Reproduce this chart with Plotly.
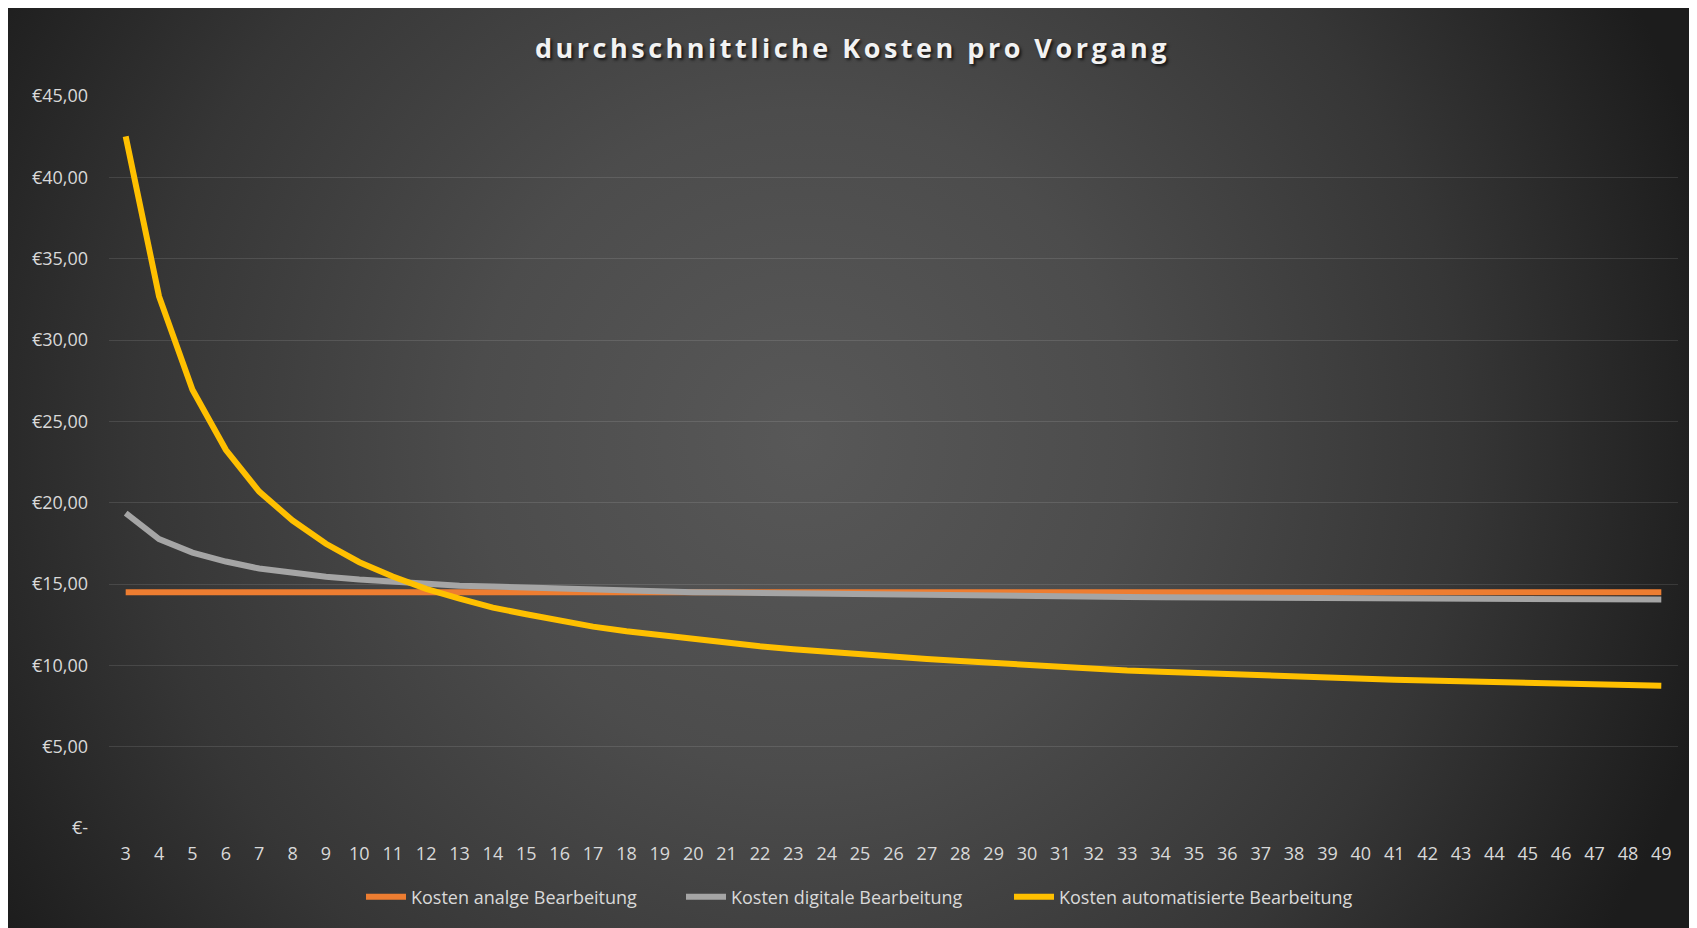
import base64
import plotly.graph_objects as go

# ---------------- data ----------------
vorgaenge = list(range(3, 50))

kosten_analog = [14.5] * 47

kosten_digital = [19.35, 17.76, 16.93, 16.38, 15.95, 15.66, 15.44, 15.27, 15.13, 15.01,
                  14.90, 14.84, 14.77, 14.71, 14.63, 14.58, 14.54, 14.50, 14.47, 14.44,
                  14.41, 14.38, 14.36, 14.33, 14.31, 14.29, 14.27, 14.25, 14.23, 14.21,
                  14.20, 14.18, 14.17, 14.16, 14.15, 14.13, 14.12, 14.11, 14.10, 14.09,
                  14.08, 14.08, 14.07, 14.06, 14.05, 14.05, 14.04]

kosten_automatisiert = [42.52, 32.68, 26.94, 23.25, 20.68, 18.90, 17.47, 16.34, 15.46, 14.70,
                        14.10, 13.55, 13.14, 12.75, 12.38, 12.10, 11.85, 11.60, 11.36, 11.17,
                        10.99, 10.82, 10.66, 10.52, 10.39, 10.27, 10.15, 10.01, 9.86, 9.76,
                        9.68, 9.61, 9.53, 9.46, 9.39, 9.33, 9.24, 9.18, 9.12, 9.07,
                        9.01, 8.96, 8.92, 8.88, 8.83, 8.79, 8.75]

series_names = ["Kosten analge Bearbeitung", "Kosten digitale Bearbeitung",
                "Kosten automatisierte Bearbeitung"]
series_colors = ["#ED7D31", "#A5A5A5", "#FFC000"]

y_tickvals = [0, 5, 10, 15, 20, 25, 30, 35, 40, 45]
y_ticktext = ["€-", "€5,00", "€10,00", "€15,00", "€20,00", "€25,00",
              "€30,00", "€35,00", "€40,00", "€45,00"]

title_text = "durchschnittliche Kosten pro Vorgang"

# ---------------- layout geometry ----------------
W, H = 1689, 920
ML, MR, MT, MB = 101, 19, 88, 100
PW = W - ML - MR
PH = H - MT - MB
legend_left_px = [353, 673, 1001]   # left edges of the three legend entries (figure px)

svg = f'''<svg xmlns="http://www.w3.org/2000/svg" width="{W}" height="{H}" viewBox="0 0 {W} {H}" preserveAspectRatio="none">
<defs><radialGradient id="g" gradientUnits="userSpaceOnUse" cx="{W*0.47}" cy="{H*0.47}" r="{0.98*((W/2)**2+(H/2)**2)**0.5}">
<stop offset="0" stop-color="#585858"/><stop offset="0.35" stop-color="#4c4c4c"/>
<stop offset="0.7" stop-color="#363636"/><stop offset="1" stop-color="#1c1c1c"/></radialGradient></defs>
<rect x="0" y="0" width="{W}" height="{H}" fill="url(#g)"/></svg>'''
bg_src = "data:image/svg+xml;base64," + base64.b64encode(svg.encode()).decode()

legend_ids = ["legend", "legend2", "legend3"]

fig = go.Figure()
for name, vals, col, lid in zip(series_names,
                                [kosten_analog, kosten_digital, kosten_automatisiert],
                                series_colors, legend_ids):
    fig.add_trace(go.Scatter(x=vorgaenge, y=vals, name=name, mode="lines",
                             line=dict(color=col, width=6), legend=lid,
                             hoverinfo="x+y+name"))

tick_font = dict(family="Open Sans, sans-serif", size=18, color="#d9d9d9")
legend_font = dict(family="Open Sans, sans-serif", size=18, color="#d9d9d9")

legend_cfgs = {}
for lid, px in zip(legend_ids, legend_left_px):
    legend_cfgs[lid] = dict(orientation="h", x=px / W, xanchor="left", xref="container",
                            y=1 - 889 / H, yanchor="middle", yref="container",
                            font=legend_font, bgcolor="rgba(0,0,0,0)", itemwidth=40)

fig.update_layout(
    width=W, height=H,
    margin=dict(l=ML, r=MR, t=MT, b=MB),
    paper_bgcolor="#1f1f1f",
    plot_bgcolor="rgba(0,0,0,0)",
    images=[dict(source=bg_src, xref="paper", yref="paper",
                 x=-ML / PW, y=1 + MT / PH, sizex=W / PW, sizey=H / PH,
                 xanchor="left", yanchor="top", sizing="stretch", layer="below")],
    title=dict(text='<span style="letter-spacing:3.5px">' + title_text + '</span>',
               x=0.5, xanchor="center", xref="container",
               y=1 - 41 / H, yanchor="middle", yref="container",
               font=dict(family="Open Sans, sans-serif", size=27, color="#f2f2f2",
                         weight="bold", shadow="2px 2px 3px rgba(0,0,0,0.7)")),
    xaxis=dict(range=[2.5, 49.5], tickmode="linear", tick0=3, dtick=1,
               showgrid=False, zeroline=False, showline=False,
               tickfont=tick_font, ticks="", ticklabelstandoff=13),
    yaxis=dict(range=[0, 45], tickvals=y_tickvals, ticktext=y_ticktext,
               showgrid=True, gridcolor="rgba(255,255,255,0.11)", gridwidth=1.3,
               zeroline=False, showline=False, tickfont=tick_font, ticks="",
               ticklabelstandoff=20),
    showlegend=True,
    **legend_cfgs,
)

fig.write_html("out.html")
